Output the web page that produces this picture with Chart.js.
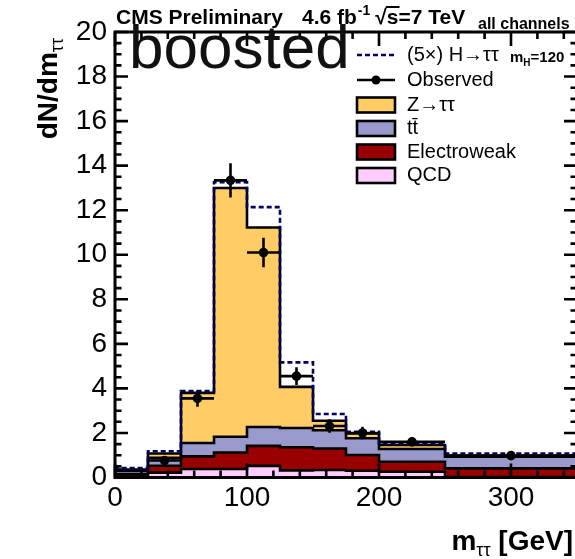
<!DOCTYPE html>
<html>
<head>
<meta charset="utf-8">
<script src="https://cdn.jsdelivr.net/npm/chart.js@4.4.0/dist/chart.umd.min.js"></script>
<style>
  html, body { margin: 0; padding: 0; background: #fff; overflow: hidden; width: 575px; height: 559px; }
  #wrap { position: absolute; left: 0; top: 0; width: 582px; height: 559px; }
  canvas { display: block; }
</style>
</head>
<body>
<div id="wrap"><canvas id="c" width="582" height="559"></canvas></div>
<script>
// m_tautau bin edges [GeV]
const binEdges    = [0, 25, 50, 75, 100, 125, 150, 175, 200, 250, 350];
// per-process dN/dm in each bin
const qcd         = [0.03, 0.22, 0.38, 0.38, 0.52, 0.32, 0.34, 0.30, 0.26, 0.02];
const electroweak = [0.12, 0.31, 0.57, 0.74, 0.90, 1.04, 0.96, 0.71, 0.45, 0.39];
const ttbar       = [0.15, 0.35, 0.60, 0.71, 0.85, 0.86, 0.82, 0.75, 0.57, 0.52];
const ztautau     = [0.06, 0.20, 2.25, 11.17, 8.95, 1.85, 0.43, 0.22, 0.18, 0.04];
const higgs5x     = [0.06, 0.10, 0.08, 0.26, 0.92, 1.10, 0.30, 0.07, 0.07, 0.11];
// data
const observed    = [null, 0.76, 3.55, 13.34, 10.10, 4.55, 2.31, 2.00, 1.60, 0.98];
const observedErr = [null, 0.17, 0.37, 0.77, 0.66, 0.40, 0.30, 0.28, 0.18, 0.10];
// axis labels
const xTickLabels = [0, 100, 200, 300];
const yTickLabels = [0, 2, 4, 6, 8, 10, 12, 14, 16, 18, 20];

const FONT = "'Liberation Sans', Arial, Helvetica, sans-serif";

function sumArrays(...arrs) {
  return arrs[0].map((_, i) => arrs.reduce((s, a) => s + a[i], 0));
}
// stacked totals, bottom to top
const stackQcd = qcd.slice();
const stackEwk = sumArrays(qcd, electroweak);
const stackTt  = sumArrays(qcd, electroweak, ttbar);
const stackZ   = sumArrays(qcd, electroweak, ttbar, ztautau);
const stackSig = sumArrays(qcd, electroweak, ttbar, ztautau, higgs5x);

// outline of a histogram as step points (closed down to zero on both ends)
function histPoints(vals) {
  const n = binEdges.length - 1;
  const pts = [{ x: binEdges[0], y: 0 }];
  vals.forEach((v, i) => pts.push({ x: binEdges[i], y: v }));
  pts.push({ x: binEdges[n], y: vals[n - 1] });
  pts.push({ x: binEdges[n], y: 0 });
  return pts;
}
const binCenters = binEdges.slice(0, -1).map((e, i) => (e + binEdges[i + 1]) / 2);
const obsPoints = [];
observed.forEach((v, i) => { if (v !== null) obsPoints.push({ x: binCenters[i], y: v, i }); });

function histDataset(label, vals, color) {
  return {
    label, data: histPoints(vals), stepped: true, fill: 'origin',
    backgroundColor: color, borderColor: '#000', borderWidth: 2.6,
    pointRadius: 0, tension: 0
  };
}

const COLORS = { z: '#FFCC66', tt: '#9999CC', ewk: '#990000', qcd: '#FFCCFF', sig: '#000066' };

// error bars for the data points
const errorBars = {
  id: 'errorBars',
  afterDatasetsDraw(chart) {
    const { ctx, scales: { x, y } } = chart;
    ctx.save();
    ctx.strokeStyle = '#000';
    ctx.lineWidth = 2.6;
    obsPoints.forEach(p => {
      const i = p.i, e = observedErr[i];
      const px = x.getPixelForValue(p.x);
      ctx.beginPath();
      ctx.moveTo(px, y.getPixelForValue(p.y - e));
      ctx.lineTo(px, y.getPixelForValue(p.y + e));
      ctx.moveTo(x.getPixelForValue(binEdges[i]), y.getPixelForValue(p.y));
      ctx.lineTo(x.getPixelForValue(binEdges[i + 1]), y.getPixelForValue(p.y));
      ctx.stroke();
    });
    ctx.restore();
  }
};

// frame with inward ticks on all four sides
const frame = {
  id: 'frame',
  afterDatasetsDraw(chart) {
    const { ctx, chartArea: a, scales: { x, y } } = chart;
    ctx.save();
    ctx.strokeStyle = '#000';
    ctx.lineWidth = 2.6;
    ctx.beginPath();
    for (let v = 0; v <= 350 + 1e-6; v += 20) {
      const px = x.getPixelForValue(v);
      const len = (v % 100 === 0) ? 14 : 7;
      ctx.moveTo(px, a.bottom); ctx.lineTo(px, a.bottom - len);
      ctx.moveTo(px, a.top); ctx.lineTo(px, a.top + len);
    }
    for (let v = 0; v <= 20 + 1e-6; v += 0.5) {
      const py = y.getPixelForValue(v);
      const len = (Math.abs(v % 2) < 1e-6) ? 13 : 6.5;
      ctx.moveTo(a.left, py); ctx.lineTo(a.left + len, py);
      ctx.moveTo(a.right, py); ctx.lineTo(a.right - len, py);
    }
    ctx.stroke();
    ctx.lineWidth = 3;
    ctx.strokeRect(a.left, a.top, a.right - a.left, a.bottom - a.top);
    ctx.restore();
  }
};

// header, axis titles, label and legend
const annotations = {
  id: 'annotations',
  afterDraw(chart) {
    const { ctx } = chart;
    ctx.save();
    ctx.fillStyle = '#000';
    ctx.textBaseline = 'alphabetic';
    ctx.textAlign = 'left';

    // header
    ctx.font = `bold 21px ${FONT}`;
    ctx.fillText('CMS Preliminary', 116, 24);
    let cx = 302;
    ctx.fillText('4.6 fb', cx, 24); cx += ctx.measureText('4.6 fb').width;
    ctx.font = `bold 14px ${FONT}`;
    ctx.fillText('-1', cx + 1, 15); cx += ctx.measureText('-1').width + 6;
    ctx.font = `bold 21px ${FONT}`;
    ctx.fillText('\u221A', cx, 24); cx += ctx.measureText('\u221A').width;
    const sW = ctx.measureText('s').width;
    ctx.fillText('s', cx, 24);
    ctx.fillRect(cx - 1, 6, sW + 2, 2);
    cx += sW;
    ctx.fillText('=7 TeV', cx, 24);
    ctx.font = `bold 16px ${FONT}`;
    ctx.fillText('all channels', 478, 29);

    // big category label
    ctx.font = `62px ${FONT}`;
    ctx.fillStyle = '#111';
    ctx.fillText('boosted', 129, 68);
    ctx.fillStyle = '#000';

    // x axis title
    ctx.font = `bold 28px ${FONT}`;
    const part3 = ' [GeV]';
    const w3 = ctx.measureText(part3).width;
    const wm = ctx.measureText('m').width;
    ctx.font = `18px ${FONT}`;
    const wsub = ctx.measureText('\u03C4\u03C4').width;
    let tx = 573 - w3 - wsub - wm;
    ctx.font = `bold 28px ${FONT}`;
    ctx.fillText('m', tx, 550); tx += wm;
    ctx.font = `18px ${FONT}`;
    ctx.fillText('\u03C4\u03C4', tx, 556); tx += wsub;
    ctx.font = `bold 28px ${FONT}`;
    ctx.fillText(part3, tx, 550);

    // y axis title (reads bottom to top, ending near the top of the axis)
    ctx.save();
    ctx.translate(57, 38);
    ctx.rotate(-Math.PI / 2);
    ctx.font = `18px ${FONT}`;
    const wsy = ctx.measureText('\u03C4\u03C4').width;
    ctx.font = `bold 28px ${FONT}`;
    const wdy = ctx.measureText('dN/dm').width;
    ctx.fillText('dN/dm', -(wdy + wsy), 0);
    ctx.font = `18px ${FONT}`;
    ctx.fillText('\u03C4\u03C4', -wsy, 6);
    ctx.restore();

    // legend
    const lx0 = 357, lx1 = 395, ltx = 407;
    const rows = [55, 80, 105, 128.5, 152, 175.5];
    ctx.font = `20px ${FONT}`;
    ctx.textBaseline = 'middle';
    // signal
    ctx.strokeStyle = COLORS.sig; ctx.lineWidth = 2.6; ctx.setLineDash([5, 3]);
    ctx.beginPath(); ctx.moveTo(lx0, rows[0]); ctx.lineTo(lx1, rows[0]); ctx.stroke();
    ctx.setLineDash([]);
    ctx.fillText('(5\u00D7) H\u2192\u03C4\u03C4', ltx, rows[0]);
    ctx.textBaseline = 'alphabetic';
    ctx.font = `bold 15px ${FONT}`;
    let mx = 510;
    ctx.fillText('m', mx, 62); mx += ctx.measureText('m').width;
    ctx.font = `bold 10px ${FONT}`;
    ctx.fillText('H', mx, 66); mx += ctx.measureText('H').width;
    ctx.font = `bold 15px ${FONT}`;
    ctx.fillText('=120', mx, 62);
    ctx.font = `20px ${FONT}`;
    ctx.textBaseline = 'middle';
    // observed
    ctx.strokeStyle = '#000'; ctx.lineWidth = 2.6;
    ctx.beginPath(); ctx.moveTo(lx0, rows[1]); ctx.lineTo(lx1, rows[1]); ctx.stroke();
    ctx.beginPath(); ctx.arc((lx0 + lx1) / 2, rows[1], 4.5, 0, Math.PI * 2); ctx.fill();
    ctx.fillText('Observed', ltx, rows[1]);
    // filled samples
    const boxes = [
      [COLORS.z, 'Z\u2192\u03C4\u03C4'],
      [COLORS.tt, 'tt\u0304'],
      [COLORS.ewk, 'Electroweak'],
      [COLORS.qcd, 'QCD']
    ];
    boxes.forEach(([col, txt], k) => {
      const ry = rows[k + 2];
      ctx.fillStyle = col;
      ctx.fillRect(lx0, ry - 7.5, lx1 - lx0, 15);
      ctx.strokeStyle = '#000'; ctx.lineWidth = 2.6;
      ctx.strokeRect(lx0, ry - 7.5, lx1 - lx0, 15);
      ctx.fillStyle = '#000';
      ctx.fillText(txt, ltx, ry);
    });
    ctx.restore();
  }
};

new Chart(document.getElementById('c'), {
  type: 'line',
  data: {
    datasets: [
      {
        label: 'Observed', data: obsPoints, showLine: false,
        pointRadius: 4.8, pointBackgroundColor: '#000', pointBorderWidth: 0, pointBorderColor: '#000'
      },
      {
        label: '(5\u00D7) H\u2192\u03C4\u03C4', data: histPoints(stackSig), stepped: true, fill: false,
        borderColor: COLORS.sig, borderWidth: 2.6, borderDash: [5, 3], pointRadius: 0
      },
      histDataset('QCD', stackQcd, COLORS.qcd),
      histDataset('Electroweak', stackEwk, COLORS.ewk),
      histDataset('tt\u0304', stackTt, COLORS.tt),
      histDataset('Z\u2192\u03C4\u03C4', stackZ, COLORS.z)
    ]
  },
  options: {
    responsive: false,
    animation: false,
    devicePixelRatio: 1,
    layout: { padding: { top: 32, right: 5, bottom: 0, left: 0 } },
    plugins: { legend: { display: false }, tooltip: { enabled: false }, title: { display: false } },
    scales: {
      x: {
        type: 'linear', min: 0, max: 350,
        grid: { display: false, drawTicks: false }, border: { display: false },
        ticks: { font: { family: FONT, size: 28 }, color: '#000', padding: 4, autoSkip: false, maxRotation: 0 },
        afterBuildTicks: s => { s.ticks = xTickLabels.map(v => ({ value: v })); },
        afterFit: s => { s.height = 81.5; }
      },
      y: {
        type: 'linear', min: 0, max: 20,
        grid: { display: false, drawTicks: false }, border: { display: false },
        ticks: { font: { family: FONT, size: 28 }, color: '#000', padding: 8, autoSkip: false },
        afterBuildTicks: s => { s.ticks = yTickLabels.map(v => ({ value: v })); },
        afterFit: s => { s.width = 115; }
      }
    }
  },
  plugins: [errorBars, frame, annotations]
});
</script>
</body>
</html>
